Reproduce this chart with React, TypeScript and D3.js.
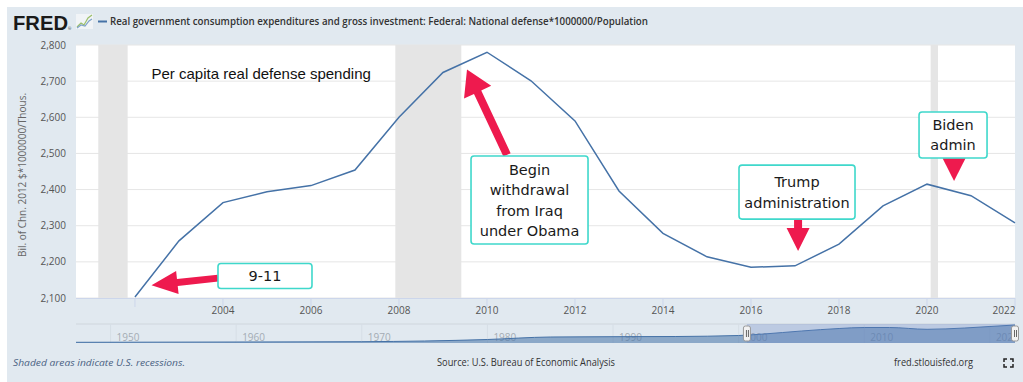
import React from "react";
import * as d3 from "d3";

// ---- data ----
const years = [2002, 2003, 2004, 2005, 2006, 2007, 2008, 2009, 2010, 2011, 2012, 2013, 2014, 2015, 2016, 2017, 2018, 2019, 2020, 2021, 2022];
const values = [2103, 2258, 2364, 2394, 2411, 2454, 2600, 2724, 2780, 2701, 2590, 2396, 2279, 2214, 2185, 2189, 2249, 2355, 2415, 2383, 2308];
const yTicks = [2100, 2200, 2300, 2400, 2500, 2600, 2700, 2800];
const xTicks = [2002, 2004, 2006, 2008, 2010, 2012, 2014, 2016, 2018, 2020, 2022];
const xLabelYears = [2004, 2006, 2008, 2010, 2012, 2014, 2016, 2018, 2020, 2022];
const recessionStarts = [2001 + 2 / 12, 2007 + 11 / 12, 2020 + 1 / 12];
const recessionEnds = [2001 + 10 / 12, 2009 + 5 / 12, 2020 + 3 / 12];
// navigator (full history, relative level)
const navYears = [1947.25, 1960, 1970, 1975, 1980, 1985, 1990, 1995, 2000, 2002, 2005, 2008, 2010, 2012, 2015, 2018, 2020, 2022];
const navValues = [3.5, 5, 6.5, 10, 17.5, 30, 31.5, 32.5, 37.5, 45, 60, 72.5, 77.5, 77.5, 68.5, 75, 82.5, 90];
const navLabels = [1950, 1960, 1970, 1980, 1990, 2000, 2010, 2020];

const title = "Real government consumption expenditures and gross investment: Federal: National defense*1000000/Population";
const yTitle = "Bil. of Chn. 2012 $*1000000/Thous.";
const chartNote = "Per capita real defense spending";

// annotation boxes (data coords of box centre)
const boxLines = [["9-11"], ["Begin", "withdrawal", "from Iraq", "under Obama"], ["Trump", "administration"], ["Biden", "admin"]];
const boxYear = [2004.955, 2010.967, 2017.046, 2020.592];
const boxValue = [2161, 2371, 2393, 2551];
// arrows: tail and tip in data coords
const arrowTailYear = [2003.887, 2010.455, 2017.07, 2020.615];
const arrowTailValue = [2155, 2496, 2318, 2487];
const arrowTipYear = [2002.376, 2009.546, 2017.07, 2020.615];
const arrowTipValue = [2135, 2732, 2230, 2424];

const L = 76, R = 1015, T = 45, B = 298;
const NT = 324, NB = 343;

function arrowPoints(tx: number, ty: number, px: number, py: number, sw: number, hl: number, hw: number) {
  const dx = px - tx, dy = py - ty;
  const len = Math.hypot(dx, dy);
  const ux = dx / len, uy = dy / len;
  const nx = -uy, ny = ux;
  const h = Math.min(hl, len);
  const bx = px - ux * h, by = py - uy * h;
  const pts = [
    [tx + nx * sw / 2, ty + ny * sw / 2],
    [bx + nx * sw / 2, by + ny * sw / 2],
    [bx + nx * hw / 2, by + ny * hw / 2],
    [px, py],
    [bx - nx * hw / 2, by - ny * hw / 2],
    [bx - nx * sw / 2, by - ny * sw / 2],
    [tx - nx * sw / 2, ty - ny * sw / 2],
  ];
  return pts.map((p) => p.join(",")).join(" ");
}

export default function App() {
  const x = d3.scaleLinear().domain([2000.66, 2022]).range([L, R]);
  const y = d3.scaleLinear().domain([2100, 2800]).range([B, T]);
  const nx = d3.scaleLinear().domain([1947.25, 2022]).range([L, R]);
  const ny = d3.scaleLinear().domain([0, 100]).range([NB, NB - 20]);
  const fmt = d3.format(",");

  const line = d3.line<number>().x((_, i) => x(years[i])).y((d) => y(d));
  const navArea = d3.area<number>().x((_, i) => nx(navYears[i])).y0(NB).y1((d) => ny(d)).curve(d3.curveMonotoneX);
  const navLine = d3.line<number>().x((_, i) => nx(navYears[i])).y((d) => ny(d)).curve(d3.curveMonotoneX);

  const selL = nx(2000.66), selR = nx(2022);
  const font = "'Open Sans', sans-serif";
  const boxW = [94, 117, 116, 68];
  const boxH = [25, 88, 54, 46];
  const arrowSW = [7, 8, 8, 8];
  const arrowHL = [26, 25, 23, 23];
  const arrowHW = [23, 30, 23, 23];

  return (
    <svg width={1023} height={382} style={{ position: "absolute", left: 0, top: 0 }} fontFamily={font}>
      <rect x={0} y={0} width={1023} height={382} fill="#ffffff" />
      <rect x={7} y={7} width={1016} height={375} fill="#e1e9f0" />

      {/* header */}
      <text x={13} y={30} fontFamily="'Liberation Sans', Arial, sans-serif" fontWeight={900} fontSize={20} fill="#1a1a1a" textLength={55} lengthAdjust="spacingAndGlyphs">FRED</text>
      <text x={68} y={30} fontSize={4} fill="#333">®</text>
      <g>
        <rect x={76} y={14} width={17} height={15} fill="#f1f4f7" />
        <polyline points="77,27 81,23 84,25 88,18 92,15" fill="none" stroke="#9bbf6a" strokeWidth={1.2} />
        <polyline points="77,28 81,25 85,26 89,21 92,19" fill="none" stroke="#7fa2c9" strokeWidth={1.2} />
      </g>
      <line x1={98} x2={107} y1={21.5} y2={21.5} stroke="#4572a7" strokeWidth={2} />
      <text x={110} y={25} fontSize={10} fontWeight={600} fill="#333" textLength={538} lengthAdjust="spacingAndGlyphs">{title}</text>

      {/* plot area */}
      <rect x={L} y={T} width={R - L} height={B - T} fill="#ffffff" />
      {yTicks.map((t) => (
        <line key={"g" + t} x1={L} x2={R} y1={y(t)} y2={y(t)} stroke="#e6e6e6" strokeWidth={1} />
      ))}
      {recessionStarts.map((s, i) => (
        <rect key={"r" + i} x={x(s)} y={T} width={x(recessionEnds[i]) - x(s)} height={B - T} fill="#e5e5e5" />
      ))}
      <line x1={L} x2={R} y1={B + 0.5} y2={B + 0.5} stroke="#ccd6eb" />
      {xTicks.map((t) => (
        <line key={"t" + t} x1={x(t)} x2={x(t)} y1={B} y2={B + 9} stroke="#ccd6eb" />
      ))}
      {xLabelYears.map((t) => (
        <text key={"xl" + t} x={t === 2022 ? x(t) - 11 : x(t)} y={314} fontSize={10} fill="#555" textAnchor="middle">{t}</text>
      ))}
      {yTicks.map((t) => (
        <text key={"yl" + t} x={66} y={y(t) + 3.5} fontSize={10} fill="#555" textAnchor="end">{fmt(t)}</text>
      ))}
      <text transform="translate(26,175) rotate(-90)" fontSize={10} fill="#666" textAnchor="middle">{yTitle}</text>

      <path d={line(values) || ""} fill="none" stroke="#4572a7" strokeWidth={1.5} />

      {/* annotations */}
      <text x={151.5} y={79} fontFamily="'Liberation Sans', Arial, sans-serif" fontSize={15} fill="#111">{chartNote}</text>
      {arrowTailYear.map((ty, i) => (
        <polygon key={"a" + i}
          points={arrowPoints(x(ty), y(arrowTailValue[i]), x(arrowTipYear[i]), y(arrowTipValue[i]), arrowSW[i], arrowHL[i], arrowHW[i])}
          fill="#ee1a4e" />
      ))}
      {boxLines.map((lines, i) => {
        const cx = x(boxYear[i]), cy = y(boxValue[i]);
        const lh = 20.5;
        const startY = cy - ((lines.length - 1) * lh) / 2;
        return (
          <g key={"b" + i}>
            <rect x={cx - boxW[i] / 2} y={cy - boxH[i] / 2} width={boxW[i]} height={boxH[i]} rx={3} fill="#ffffff" stroke="#3fd8cb" strokeWidth={1.6} />
            {lines.map((s, j) => (
              <text key={j} x={cx} y={startY + j * lh + 5.2} fontFamily="'DejaVu Sans', sans-serif" fontSize={14.5} fill="#1a1a1a" textAnchor="middle">{s}</text>
            ))}
          </g>
        );
      })}

      {/* navigator */}
      <line x1={L} x2={R} y1={NT} y2={NT} stroke="#cfd6dd" />
      {navLabels.map((t) => (
        <line key={"ng" + t} x1={nx(t)} x2={nx(t)} y1={NT} y2={NB} stroke="#d6dee6" />
      ))}
      {navLabels.map((t) => (
        <text key={"nl" + t} x={nx(t) + 6} y={341} fontSize={10} fill="#a4acb4">{t}</text>
      ))}
      <path d={navArea(navValues) || ""} fill="#4572a7" fillOpacity={0.55} />
      <path d={navLine(navValues) || ""} fill="none" stroke="#4572a7" strokeWidth={1} />
      <rect x={selL} y={NT} width={selR - selL} height={NB - NT} fill="rgba(102,133,194,0.3)" />
      {[selL, selR].map((hx, i) => (
        <g key={"h" + i}>
          <rect x={hx - 3.5} y={326} width={7} height={15} rx={2} fill="#f2f2f2" stroke="#999" />
          <line x1={hx - 0.5} x2={hx - 0.5} y1={330} y2={337} stroke="#666" />
          <line x1={hx + 1.5} x2={hx + 1.5} y1={330} y2={337} stroke="#666" />
        </g>
      ))}

      {/* footer */}
      <text x={13} y={366} fontSize={9.5} fontStyle="italic" fill="#4b6283" textLength={172} lengthAdjust="spacingAndGlyphs">Shaded areas indicate U.S. recessions.</text>
      <text x={437} y={366} fontSize={10} fill="#333" textLength={178} lengthAdjust="spacingAndGlyphs">Source: U.S. Bureau of Economic Analysis</text>
      <text x={894} y={366} fontSize={10} fill="#333" textLength={79} lengthAdjust="spacingAndGlyphs">fred.stlouisfed.org</text>
      <g stroke="#222" strokeWidth={1.5} fill="none">
        <polyline points="1004,362 1004,359 1007,359" />
        <polyline points="1010,359 1013,359 1013,362" />
        <polyline points="1004,364 1004,367 1007,367" />
        <polyline points="1010,367 1013,367 1013,364" />
      </g>
    </svg>
  );
}
